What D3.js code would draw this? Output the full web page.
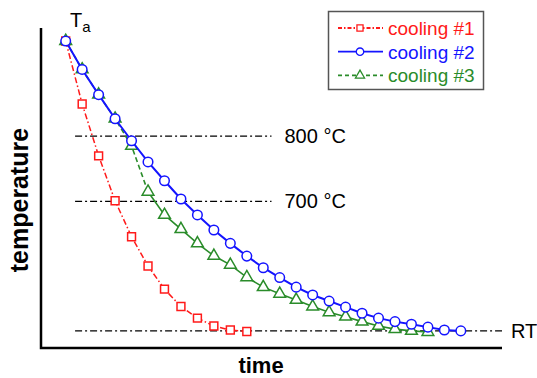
<!DOCTYPE html>
<html>
<head>
<meta charset="utf-8">
<script src="https://cdn.jsdelivr.net/npm/d3@7"></script>
<style>
  body { margin: 0; background: #fff; }
  text { font-family: "Liberation Sans", Arial, sans-serif; }
</style>
</head>
<body>
<svg id="chart" width="537" height="378"></svg>
<script>
// relative temperature (100 = Ta, 0 = RT), one value per time step
var cooling1 = [100, 78.3, 60.4, 44.9, 32.5, 22.4, 14.4, 8.4, 4.4, 1.7, 0.3, -0.2];
var cooling2 = [100, 90.2, 81.5, 73.2, 65.6, 58.3, 51.8, 45.5, 40.0, 34.8, 30.2, 25.8, 21.8,
                18.4, 15.1, 12.4, 10.3, 8.2, 6.1, 4.4, 3.2, 2.3, 1.3, 0.3, 0];
var cooling3 = [100, 90.2, 81.5, 73.2, 63.8, 48.0, 40.0, 35.1, 30.2, 25.9, 22.8, 18.5, 15.1,
                12.8, 10.7, 8.4, 6.4, 4.9, 3.2, 1.7, 0.6, 0, -0.4];
var seriesNames = ["cooling #1", "cooling #2", "cooling #3"];

// horizontal reference levels
var levelLabels = ["800 °C", "700 °C", "RT"];
var levelValues = [67.2, 44.7, 0];
var levelEnds = [12.5, 12.5, 26.5];

var svg = d3.select("#chart");

var x = d3.scaleLinear().domain([-1.5, 26.5]).range([41, 502]);
var y = d3.scaleLinear().domain([-5.9, 104.5]).range([348, 28]);

var line = d3.line()
    .x(function (d, i) { return x(i); })
    .y(function (d) { return y(d); });

// axes (plain lines, no ticks)
svg.append("path")
    .attr("d", "M" + x(-1.5) + "," + y(104.5) + "V" + y(-5.9) + "H" + x(26.5))
    .attr("fill", "none")
    .attr("stroke", "#000")
    .attr("stroke-width", 2.5);

// reference lines
levelValues.forEach(function (v, k) {
    svg.append("line")
        .attr("x1", x(0.57)).attr("x2", x(levelEnds[k]))
        .attr("y1", y(v)).attr("y2", y(v))
        .attr("stroke", "#000")
        .attr("stroke-width", 1.3)
        .attr("stroke-dasharray", "7,3,2,3");
    svg.append("text")
        .attr("x", x(levelEnds[k]) + (k < 2 ? 13 : 9))
        .attr("y", y(v) + 7)
        .attr("font-size", 20)
        .text(levelLabels[k]);
});

var styles = [
    {color: "#ff1a1a", dash: "6,2.5,1.5,2.5", width: 1.5, symbol: d3.symbolSquare, size: 62},
    {color: "#1414ff", dash: null, width: 2, symbol: d3.symbolCircle, size: 72},
    {color: "#2a8c2a", dash: "5,3", width: 1.6, symbol: d3.symbolTriangle, size: 60}
];
var data = [cooling1, cooling2, cooling3];

function drawSeries(k) {
    var s = styles[k], vals = data[k];
    if (k === 2) {
        // dashed drop, then continuous
        svg.append("path").attr("d", line(vals.slice(0, 6)))
            .attr("fill", "none").attr("stroke", s.color)
            .attr("stroke-width", s.width).attr("stroke-dasharray", s.dash);
        svg.append("path")
            .attr("d", d3.line().x(function (d, i) { return x(i + 5); }).y(function (d) { return y(d); })(vals.slice(5)))
            .attr("fill", "none").attr("stroke", s.color).attr("stroke-width", s.width);
    } else {
        svg.append("path").attr("d", line(vals))
            .attr("fill", "none").attr("stroke", s.color)
            .attr("stroke-width", s.width).attr("stroke-dasharray", s.dash);
    }
    svg.append("g").selectAll("path").data(vals).enter().append("path")
        .attr("transform", function (d, i) { return "translate(" + x(i) + "," + y(d) + ")"; })
        .attr("d", d3.symbol().type(s.symbol).size(s.size))
        .attr("fill", "#fff")
        .attr("stroke", s.color)
        .attr("stroke-width", 1.5);
}
drawSeries(0);
drawSeries(2);
drawSeries(1);

// Ta label
var ta = svg.append("text").attr("x", 70).attr("y", 27).attr("font-size", 20).text("T");
ta.append("tspan").attr("font-size", 15).attr("dy", 5).text("a");

// axis titles
svg.append("text")
    .attr("transform", "translate(28,200) rotate(-90)")
    .attr("text-anchor", "middle")
    .attr("font-size", 25).attr("font-weight", "bold")
    .text("temperature");
svg.append("text")
    .attr("x", 261).attr("y", 373)
    .attr("text-anchor", "middle")
    .attr("font-size", 22).attr("font-weight", "bold")
    .text("time");

// legend
var lg = svg.append("g");
lg.append("rect")
    .attr("x", 328.5).attr("y", 11.5).attr("width", 155).attr("height", 78)
    .attr("fill", "#fff").attr("stroke", "#555").attr("stroke-width", 1.5);
seriesNames.forEach(function (name, k) {
    var s = styles[k], cy = 28 + k * 23.7;
    lg.append("line")
        .attr("x1", 338).attr("x2", 383).attr("y1", cy).attr("y2", cy)
        .attr("stroke", s.color).attr("stroke-width", 1.8)
        .attr("stroke-dasharray", k === 0 ? "4,2,1.5,2" : (k === 2 ? "4,3" : null));
    lg.append("path")
        .attr("transform", "translate(360," + cy + ")")
        .attr("d", d3.symbol().type(s.symbol).size(s.size * 0.6))
        .attr("fill", "#fff").attr("stroke", s.color).attr("stroke-width", 1.3);
    lg.append("text")
        .attr("x", 388).attr("y", cy + 7)
        .attr("font-size", 19)
        .attr("fill", s.color)
        .text(name);
});
</script>
</body>
</html>
